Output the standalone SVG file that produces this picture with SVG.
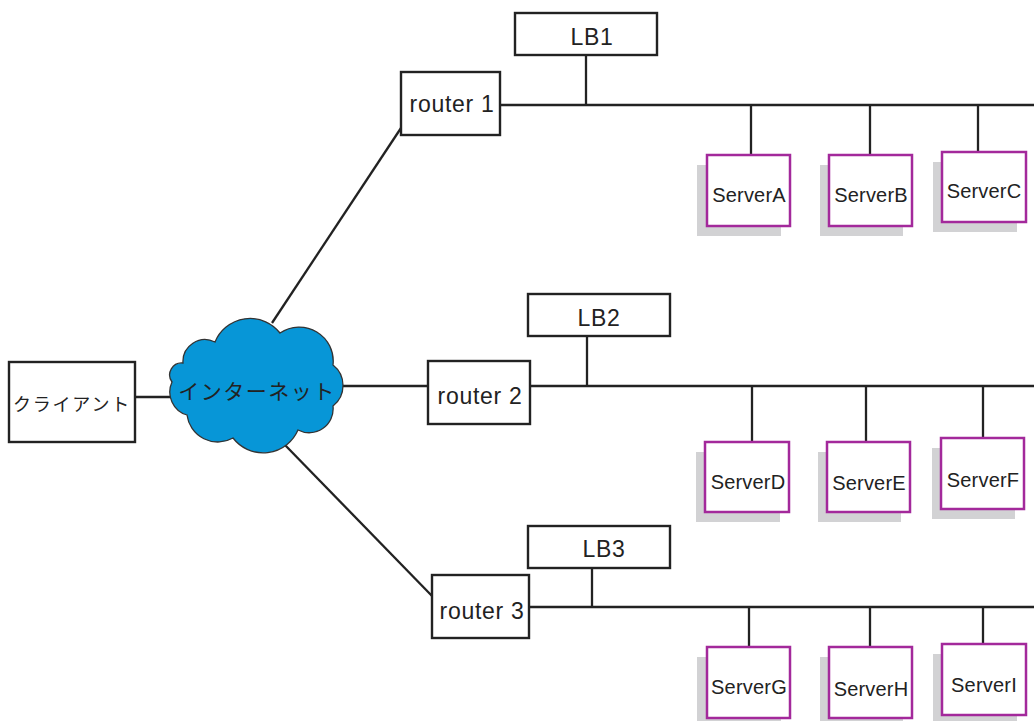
<svg xmlns="http://www.w3.org/2000/svg" width="1034" height="721" viewBox="0 0 1034 721">
<style>
.box{fill:#fff;stroke:#222;stroke-width:2.4}
.srv{fill:#fff;stroke:#a3299b;stroke-width:2.5}
.sh{fill:#d2d2d4}
.ln{stroke:#222;stroke-width:2.3;fill:none}
.t{font-family:"Liberation Sans",Arial,sans-serif;fill:#222;text-anchor:middle}
.tr{font-size:23px;letter-spacing:0.7px}
.ts{font-size:20px;letter-spacing:0.2px}
.jp{font-family:"Noto Sans CJK JP",sans-serif;fill:#222;text-anchor:middle}
</style>
<rect width="1034" height="721" fill="#fff"/>
<g id="connectors">
<line class="ln" x1="135" y1="397" x2="176" y2="397"/>
<line class="ln" x1="272" y1="323" x2="401" y2="128"/>
<line class="ln" x1="338" y1="386" x2="428" y2="386"/>
<line class="ln" x1="285" y1="445" x2="433" y2="597"/>
<line class="ln" x1="500" y1="105" x2="1034" y2="105"/>
<line class="ln" x1="586" y1="55" x2="586" y2="105"/>
<line class="ln" x1="751" y1="105" x2="751" y2="155"/>
<line class="ln" x1="870" y1="105" x2="870" y2="155"/>
<line class="ln" x1="978" y1="105" x2="978" y2="152"/>
<line class="ln" x1="530" y1="386" x2="1034" y2="386"/>
<line class="ln" x1="587" y1="336" x2="587" y2="386"/>
<line class="ln" x1="752" y1="386" x2="752" y2="442"/>
<line class="ln" x1="866" y1="386" x2="866" y2="442"/>
<line class="ln" x1="983" y1="386" x2="983" y2="438"/>
<line class="ln" x1="529" y1="607" x2="1034" y2="607"/>
<line class="ln" x1="592" y1="568" x2="592" y2="607"/>
<line class="ln" x1="749" y1="607" x2="749" y2="647"/>
<line class="ln" x1="870" y1="607" x2="870" y2="647"/>
<line class="ln" x1="983" y1="607" x2="983" y2="644"/>
</g>
<g id="client">
<rect class="box" x="9" y="362" width="126" height="80"/>
<text class="jp" x="72" y="411" font-size="18" letter-spacing="1.8">クライアント</text>
</g>
<g id="internet">
<path d="M172,382 A12,12 0 0 1 183,363 A22,22 0 0 1 215,342 A38,38 0 0 1 280,333 A34,34 0 0 1 333,365 A26,26 0 0 1 333,406 A24,24 0 0 1 298,430 A38,38 0 0 1 233,438 A31,31 0 0 1 187,415 A24,24 0 0 1 172,382 Z" fill="#0796d7" stroke="#333" stroke-width="1.3"/>
<text class="jp" x="257" y="399" font-size="21" letter-spacing="1.5">インターネット</text>
</g>
<g id="router1">
<rect class="box" x="401" y="72" width="99" height="63"/>
<text class="t tr" x="452" y="112">router 1</text>
</g>
<g id="lb1">
<rect class="box" x="515" y="13" width="142" height="42"/>
<text class="t tr" x="592" y="45">LB1</text>
</g>
<g id="serverA">
<rect class="sh" x="697" y="165" width="84" height="71"/>
<rect class="srv" x="707" y="155" width="83" height="71"/>
<text class="t ts" x="749" y="202">ServerA</text>
</g>
<g id="serverB">
<rect class="sh" x="820" y="165" width="83" height="71"/>
<rect class="srv" x="829" y="155" width="83" height="71"/>
<text class="t ts" x="871" y="202">ServerB</text>
</g>
<g id="serverC">
<rect class="sh" x="933" y="162" width="84" height="70"/>
<rect class="srv" x="942" y="152" width="84" height="70"/>
<text class="t ts" x="984" y="198">ServerC</text>
</g>
<g id="router2">
<rect class="box" x="428" y="361" width="102" height="63"/>
<text class="t tr" x="480" y="404">router 2</text>
</g>
<g id="lb2">
<rect class="box" x="528" y="294" width="142" height="42"/>
<text class="t tr" x="599" y="326">LB2</text>
</g>
<g id="serverD">
<rect class="sh" x="696" y="452" width="84" height="70"/>
<rect class="srv" x="705" y="442" width="84" height="70"/>
<text class="t ts" x="748" y="489">ServerD</text>
</g>
<g id="serverE">
<rect class="sh" x="818" y="452" width="83" height="70"/>
<rect class="srv" x="827" y="442" width="83" height="70"/>
<text class="t ts" x="869" y="490">ServerE</text>
</g>
<g id="serverF">
<rect class="sh" x="932" y="448" width="83" height="71"/>
<rect class="srv" x="941" y="438" width="83" height="71"/>
<text class="t ts" x="983" y="487">ServerF</text>
</g>
<g id="router3">
<rect class="box" x="432" y="575" width="97" height="63"/>
<text class="t tr" x="482" y="619">router 3</text>
</g>
<g id="lb3">
<rect class="box" x="528" y="526" width="142" height="42"/>
<text class="t tr" x="604" y="557">LB3</text>
</g>
<g id="serverG">
<rect class="sh" x="697" y="657" width="84" height="71"/>
<rect class="srv" x="707" y="647" width="83" height="71"/>
<text class="t ts" x="749" y="694">ServerG</text>
</g>
<g id="serverH">
<rect class="sh" x="820" y="657" width="83" height="71"/>
<rect class="srv" x="829" y="647" width="83" height="71"/>
<text class="t ts" x="871" y="696">ServerH</text>
</g>
<g id="serverI">
<rect class="sh" x="933" y="654" width="84" height="71"/>
<rect class="srv" x="942" y="644" width="84" height="71"/>
<text class="t ts" x="984" y="692">ServerI</text>
</g>
</svg>
